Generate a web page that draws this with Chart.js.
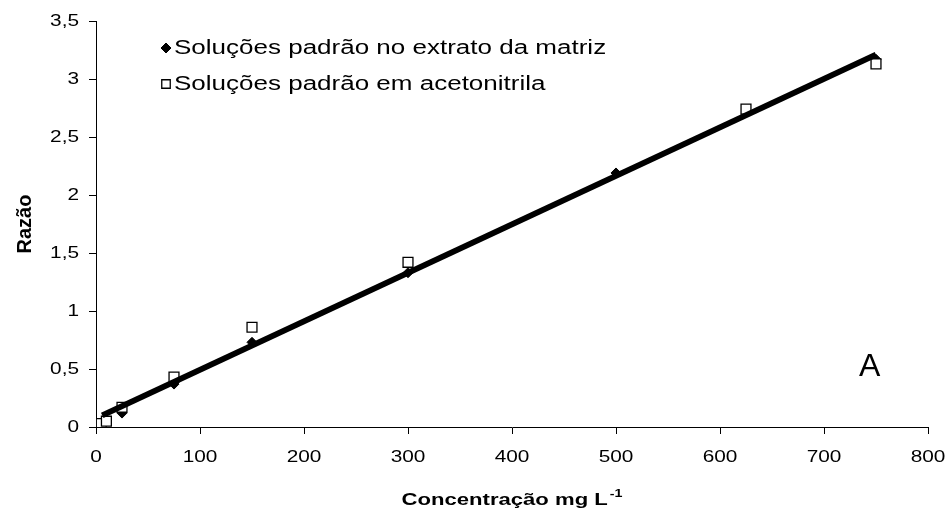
<!DOCTYPE html>
<html>
<head>
<meta charset="utf-8">
<script src="https://cdn.jsdelivr.net/npm/chart.js@4/dist/chart.umd.min.js"></script>
<style>
  html, body { margin: 0; padding: 0; background: #ffffff; }
  #wrap { width: 950px; height: 517px; }
</style>
</head>
<body>
<div id="wrap"><canvas id="chart" width="950" height="517"></canvas></div>
<script>
// Calibration standards prepared in the matrix extract
const matrixConc  = [5, 10, 25, 75, 150, 300, 500, 750];
const matrixRatio = [0.03, 0.06, 0.12, 0.37, 0.73, 1.33, 2.19, 3.17];

// Calibration standards prepared in acetonitrile
const acnConc  = [5, 10, 25, 75, 150, 300, 625, 750];
const acnRatio = [0.03, 0.05, 0.17, 0.43, 0.86, 1.42, 2.74, 3.13];

// Linear regression line (end points)
const fitConc  = [6, 750];
const fitRatio = [0.10, 3.21];

const seriesLabels = ['Soluções padrão no extrato da matriz', 'Soluções padrão em acetonitrila'];
const xTicks = [0, 100, 200, 300, 400, 500, 600, 700, 800];
const yTicks = [0, 0.5, 1, 1.5, 2, 2.5, 3, 3.5];
const xTitle = 'Concentração mg L';
const xTitleSup = '-1';
const yTitle = 'Razão';
const panelLetter = 'A';
const panelPos = [744, 0.52];

const FONT = '"Liberation Sans", Arial, sans-serif';
const SX = 1.3; // horizontal text stretch of the figure

function toPoints(xs, ys) { return xs.map((x, i) => ({ x: x, y: ys[i] })); }

// text drawn with a horizontal stretch around its anchor point
function wideText(ctx, text, x, y, font, align, baseline, sx) {
  ctx.save();
  ctx.font = font;
  ctx.textAlign = align;
  ctx.textBaseline = baseline;
  ctx.translate(x, y);
  ctx.scale(sx, 1);
  ctx.fillText(text, 0, 0);
  ctx.restore();
}
function wideWidth(ctx, text, font, sx) {
  ctx.save();
  ctx.font = font;
  const w = ctx.measureText(text).width * sx;
  ctx.restore();
  return w;
}

const decorations = {
  id: 'decorations',
  afterDraw(chart) {
    const ctx = chart.ctx;
    const xs = chart.scales.x, ys = chart.scales.y;
    const area = chart.chartArea;
    ctx.save();
    ctx.fillStyle = '#000';

    // tick labels
    const tickFont = '16px ' + FONT;
    xs.ticks.forEach((t, i) => {
      wideText(ctx, String(t.value), xs.getPixelForTick(i), 450, tickFont, 'center', 'top', SX);
    });
    ys.ticks.forEach((t, i) => {
      wideText(ctx, String(t.value).replace('.', ','), 79, ys.getPixelForTick(i) + 1, tickFont, 'right', 'middle', SX);
    });

    // legend inside the plot area
    const rows = [
      { ds: chart.data.datasets[1], base: 54 },
      { ds: chart.data.datasets[2], base: 90 }
    ];
    rows.forEach(r => {
      ctx.save();
      ctx.fillStyle = r.ds.backgroundColor;
      ctx.strokeStyle = r.ds.borderColor;
      ctx.lineWidth = r.ds.borderWidth;
      Chart.helpers.drawPoint(ctx, {
        pointStyle: r.ds.pointStyle,
        radius: r.ds.pointStyle === 'rectRot' ? 5 : 6,
        borderWidth: r.ds.borderWidth,
        rotation: 0
      }, 166, r.base - 6);
      ctx.restore();
      wideText(ctx, r.ds.label, 174, r.base, '20px ' + FONT, 'left', 'alphabetic', SX);
    });

    // panel letter
    wideText(ctx, panelLetter, xs.getPixelForValue(panelPos[0]), ys.getPixelForValue(panelPos[1]),
      '32px ' + FONT, 'center', 'middle', 1);

    // x axis title with superscript
    const tFont = 'bold 17px ' + FONT, sFont = 'bold 11px ' + FONT;
    const mainW = wideWidth(ctx, xTitle, tFont, SX);
    const supW = wideWidth(ctx, xTitleSup, sFont, SX);
    const startX = (area.left + area.right) / 2 - (mainW + supW + 2) / 2;
    wideText(ctx, xTitle, startX, 505, tFont, 'left', 'alphabetic', SX);
    wideText(ctx, xTitleSup, startX + mainW + 2, 497, sFont, 'left', 'alphabetic', SX);

    // y axis title (rotated)
    ctx.save();
    ctx.translate(25, (area.top + area.bottom) / 2);
    ctx.rotate(-Math.PI / 2);
    ctx.font = 'bold 20px ' + FONT;
    ctx.textAlign = 'center';
    ctx.textBaseline = 'middle';
    ctx.fillText(yTitle, 0, 0);
    ctx.restore();

    ctx.restore();
  }
};

const axisGrid = { drawOnChartArea: false, drawTicks: true, tickLength: 7, color: '#000', lineWidth: 1 };
const axisBorder = { display: true, color: '#000', width: 1 };

new Chart(document.getElementById('chart'), {
  data: {
    datasets: [
      {
        type: 'line',
        label: 'Regressão linear',
        data: toPoints(fitConc, fitRatio),
        borderColor: '#000',
        borderWidth: 6,
        pointRadius: 0,
        fill: false,
        order: 0
      },
      {
        type: 'scatter',
        label: seriesLabels[0],
        data: toPoints(matrixConc, matrixRatio),
        pointStyle: 'rectRot',
        pointRadius: 5,
        backgroundColor: '#000',
        borderColor: '#000',
        borderWidth: 1,
        order: 2
      },
      {
        type: 'scatter',
        label: seriesLabels[1],
        data: toPoints(acnConc, acnRatio),
        pointStyle: 'rect',
        pointRadius: 7,
        backgroundColor: '#fff',
        borderColor: '#000',
        borderWidth: 1.3,
        order: 1
      }
    ]
  },
  options: {
    responsive: false,
    animation: false,
    devicePixelRatio: 1,
    layout: { padding: { top: 21, right: 22, left: 0, bottom: 0 } },
    plugins: { legend: { display: false }, tooltip: { enabled: false } },
    scales: {
      x: {
        type: 'linear', min: 0, max: 800,
        grid: axisGrid, border: axisBorder,
        ticks: { display: false },
        afterBuildTicks(scale) { scale.ticks = xTicks.map(v => ({ value: v })); },
        afterFit(scale) { scale.height = 90; }
      },
      y: {
        type: 'linear', min: 0, max: 3.5,
        grid: axisGrid, border: axisBorder,
        ticks: { display: false },
        afterBuildTicks(scale) { scale.ticks = yTicks.map(v => ({ value: v })); },
        afterFit(scale) { scale.width = 96; }
      }
    }
  },
  plugins: [decorations]
});
</script>
</body>
</html>
